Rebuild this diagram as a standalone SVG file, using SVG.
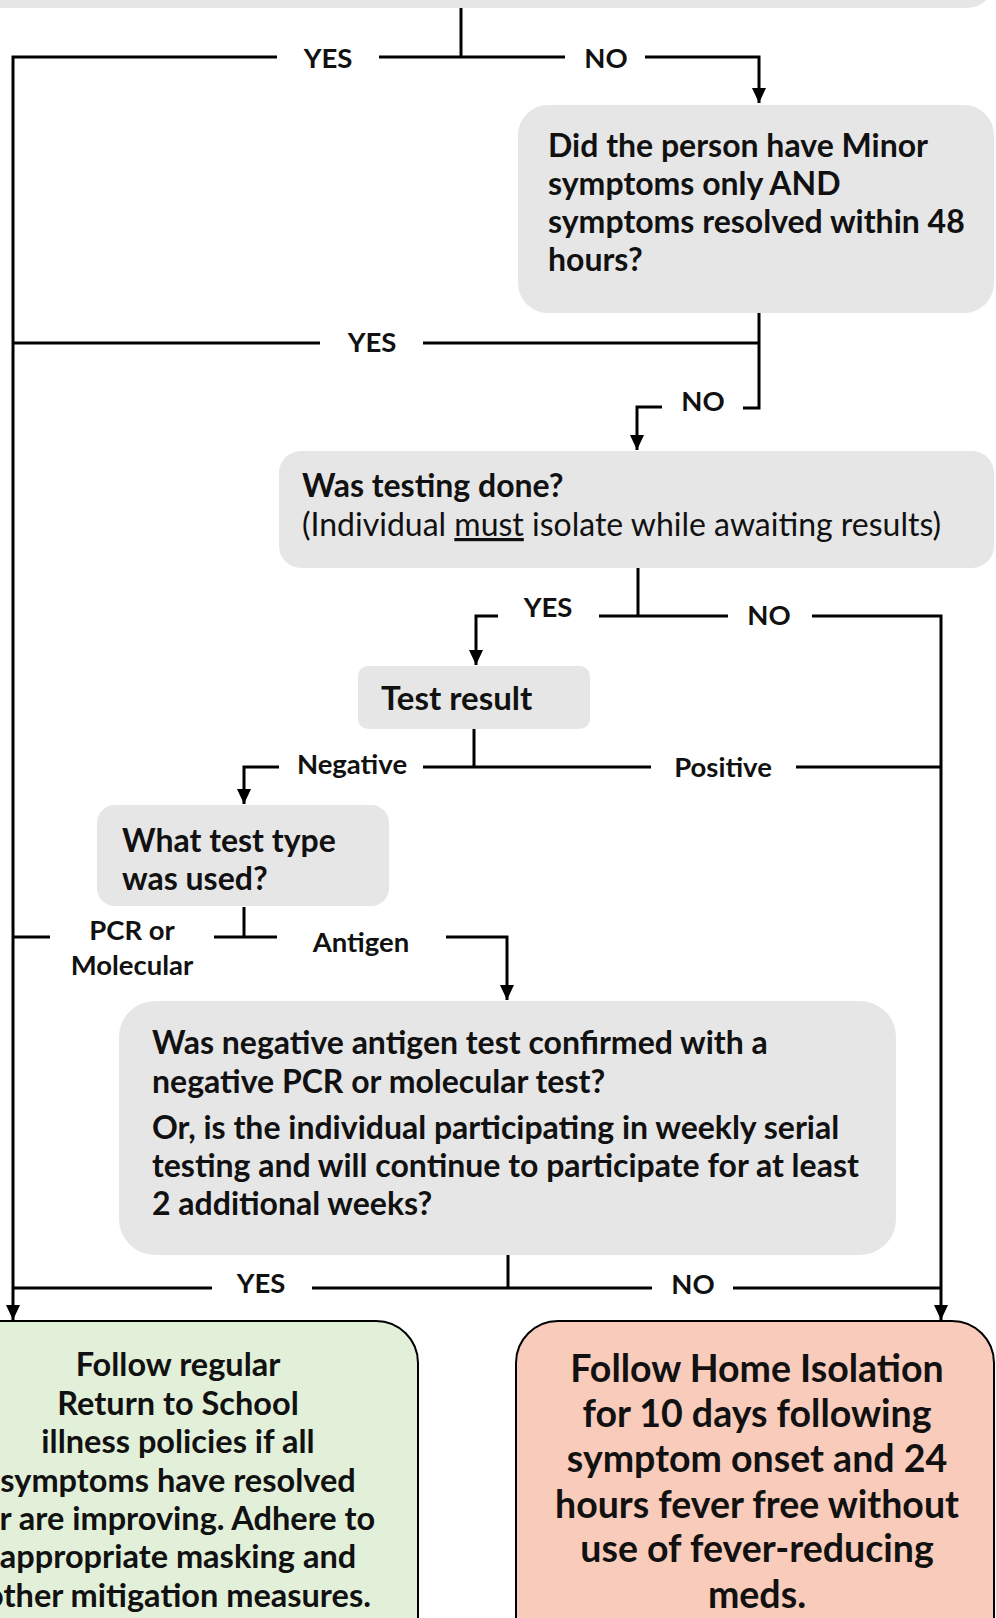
<svg xmlns="http://www.w3.org/2000/svg" width="996" height="1618" viewBox="0 0 996 1618">
<style>
.q{fill:#E6E6E6}
.t{font-family:Lato,"Liberation Sans",sans-serif;font-weight:700;fill:#111}
.r{font-weight:400}
.lb{font-family:Lato,"Liberation Sans",sans-serif;font-weight:700;font-size:27.5px;fill:#111;text-anchor:middle}
.c{fill:none;stroke:#000;stroke-width:3}
.a{marker-end:url(#arr)}
</style>
<defs>
<marker id="arr" viewBox="0 0 15 14" refX="15" refY="7" markerWidth="15" markerHeight="14" markerUnits="userSpaceOnUse" orient="auto">
<path d="M0,0 L15,7 L0,14 z" fill="#000"/>
</marker>
</defs>
<rect width="996" height="1618" fill="#fff"/>
<g id="top-box"><rect class="q" x="-40" y="-40" width="1033" height="48" rx="26"/></g>
<g id="minor-symptoms">
<rect class="q" x="518" y="105" width="476" height="208" rx="30"/>
<text class="t" font-size="32"><tspan x="548" y="157">Did the person have Minor</tspan><tspan x="548" y="195">symptoms only AND</tspan><tspan x="548" y="233">symptoms resolved within 48</tspan><tspan x="548" y="271">hours?</tspan></text>
</g>
<g id="testing-done">
<rect class="q" x="279" y="451" width="715" height="117" rx="22"/>
<text class="t" font-size="32" x="302" y="497">Was testing done?</text>
<text class="t r" font-size="32" x="302" y="536">(Individual <tspan text-decoration="underline">must</tspan> isolate while awaiting results)</text>
</g>
<g id="test-result">
<rect class="q" x="358" y="666" width="232" height="63" rx="10"/>
<text class="t" font-size="33" x="381" y="710">Test result</text>
</g>
<g id="test-type">
<rect class="q" x="97" y="805" width="292" height="101" rx="18"/>
<text class="t" font-size="32"><tspan x="122" y="852">What test type</tspan><tspan x="122" y="890">was used?</tspan></text>
</g>
<g id="antigen-confirm">
<rect class="q" x="119" y="1001" width="777" height="254" rx="36"/>
<text class="t" font-size="32"><tspan x="152" y="1054">Was negative antigen test confirmed with a</tspan><tspan x="152" y="1093">negative PCR or molecular test?</tspan><tspan x="152" y="1139">Or, is the individual participating in weekly serial</tspan><tspan x="152" y="1177">testing and will continue to participate for at least</tspan><tspan x="152" y="1215">2 additional weeks?</tspan></text>
</g>
<g id="return-to-school">
<rect x="-40" y="1321" width="458" height="340" rx="42" fill="#E2EFD9" stroke="#000" stroke-width="2"/>
<text class="t" font-size="32.5" text-anchor="middle"><tspan x="178" y="1376">Follow regular</tspan><tspan x="178" y="1415">Return to School</tspan><tspan x="178" y="1453">illness policies if all</tspan><tspan x="178" y="1492">symptoms have resolved</tspan><tspan x="178" y="1530">or are improving. Adhere to</tspan><tspan x="178" y="1568">appropriate masking and</tspan><tspan x="178" y="1607">other mitigation measures.</tspan></text>
</g>
<g id="home-isolation">
<rect x="516" y="1321" width="478" height="340" rx="42" fill="#F8CBBA" stroke="#000" stroke-width="2"/>
<text class="t" font-size="37.5" text-anchor="middle"><tspan x="757" y="1382">Follow Home Isolation</tspan><tspan x="757" y="1427">for 10 days following</tspan><tspan x="757" y="1472">symptom onset and 24</tspan><tspan x="757" y="1518">hours fever free without</tspan><tspan x="757" y="1562">use of fever-reducing</tspan><tspan x="757" y="1608">meds.</tspan></text>
</g>
<g id="connectors">
<path class="c" d="M461,8 V57"/>
<path class="c a" d="M277,57 H13 V1320"/>
<path class="c" d="M379,57 H565"/>
<path class="c a" d="M645,57 H759 V103"/>
<path class="c" d="M759,313 V408 H743"/>
<path class="c" d="M320,343 H13"/>
<path class="c" d="M423,343 H759"/>
<path class="c a" d="M662,407 H637 V450"/>
<path class="c" d="M638,568 V616"/>
<path class="c" d="M599,616 H728"/>
<path class="c a" d="M498,616 H476 V665"/>
<path class="c a" d="M812,616 H941 V1320"/>
<path class="c" d="M474,729 V767"/>
<path class="c" d="M423,767 H651"/>
<path class="c a" d="M279,767 H244 V804"/>
<path class="c" d="M796,767 H941"/>
<path class="c" d="M244,907 V937"/>
<path class="c" d="M214,937 H277"/>
<path class="c" d="M50,937 H13"/>
<path class="c a" d="M446,937 H507 V1000"/>
<path class="c" d="M508,1255 V1288"/>
<path class="c" d="M312,1288 H652"/>
<path class="c" d="M212,1288 H13"/>
<path class="c" d="M733,1288 H941"/>
</g>
<g id="labels">
<text class="lb" x="328" y="68">YES</text>
<text class="lb" x="606" y="68">NO</text>
<text class="lb" x="372" y="352">YES</text>
<text class="lb" x="703" y="411">NO</text>
<text class="lb" x="548" y="617">YES</text>
<text class="lb" x="769" y="625">NO</text>
<text class="lb" x="352" y="774">Negative</text>
<text class="lb" x="723" y="777">Positive</text>
<text class="lb" x="132" y="940">PCR or</text>
<text class="lb" x="132" y="975">Molecular</text>
<text class="lb" x="361" y="952">Antigen</text>
<text class="lb" x="261" y="1293">YES</text>
<text class="lb" x="693" y="1294">NO</text>
</g>
</svg>
